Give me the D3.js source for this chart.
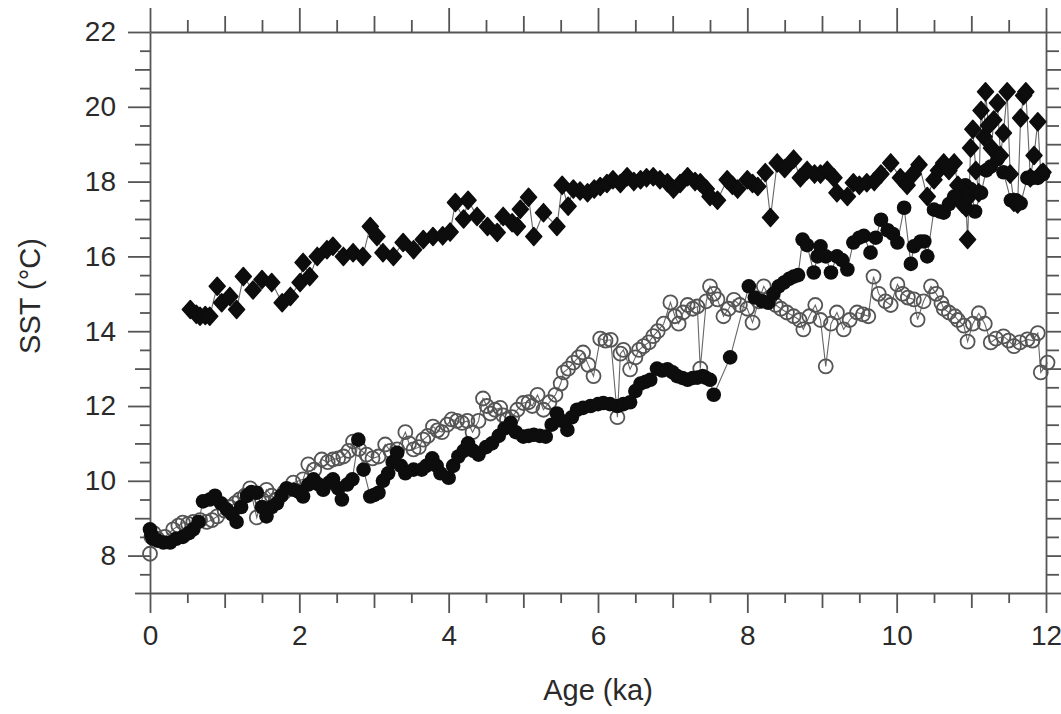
<!DOCTYPE html>
<html>
<head>
<meta charset="utf-8">
<script src="https://cdn.jsdelivr.net/npm/d3@7"></script>
<style>
  body { margin: 0; background: #fff; }
  svg text { font-family: "Liberation Sans", Arial, sans-serif; fill: #2a2a2a; }
</style>
</head>
<body>
<svg id="chart"></svg>
<script>
// ---- data ----
var diaAge = [0.54,0.62,0.67,0.74,0.80,0.90,0.96,1.07,1.16,1.25,1.38,1.50,1.63,1.77,1.88,2.01,2.05,2.14,2.24,2.37,2.45,2.59,2.72,2.85,2.95,3.04,3.12,3.26,3.39,3.53,3.66,3.79,3.92,4.02,4.09,4.20,4.26,4.38,4.52,4.65,4.73,4.85,4.92,4.96,5.07,5.14,5.27,5.45,5.52,5.60,5.67,5.76,5.86,5.95,6.03,6.12,6.20,6.30,6.39,6.48,6.57,6.65,6.74,6.83,6.93,7.01,7.10,7.20,7.30,7.37,7.45,7.50,7.60,7.73,7.80,7.87,8.00,8.07,8.14,8.24,8.31,8.40,8.50,8.62,8.71,8.80,8.90,8.98,9.07,9.16,9.20,9.34,9.42,9.50,9.60,9.70,9.79,9.92,10.05,10.14,10.22,10.30,10.41,10.50,10.56,10.63,10.70,10.77,10.82,10.88,10.93,10.95,10.97,10.99,11.02,11.06,11.10,11.13,11.17,11.19,11.23,11.27,11.30,11.35,11.39,11.43,11.48,11.52,11.57,11.62,11.66,11.70,11.73,11.79,11.84,11.89,11.93,11.96];
var diaSST = [14.58,14.45,14.4,14.42,14.4,15.2,14.76,14.93,14.58,15.46,15.1,15.38,15.3,14.76,14.93,15.3,15.84,15.46,16.0,16.18,16.27,16.0,16.1,16.0,16.8,16.53,16.1,16.0,16.37,16.18,16.45,16.53,16.55,16.65,17.44,17.0,17.5,17.07,16.8,16.64,17.07,16.9,16.8,17.26,17.58,16.53,17.17,16.8,17.9,17.34,17.8,17.75,17.7,17.8,17.87,17.95,18.05,17.95,18.13,18.0,18.05,18.1,18.13,18.05,17.97,17.8,17.95,18.13,18.0,17.97,17.8,17.6,17.5,18.05,17.9,17.8,18.05,17.95,17.87,18.24,17.04,18.5,18.35,18.6,18.1,18.3,18.2,18.2,18.3,18.1,17.7,17.6,17.97,17.9,17.97,18.0,18.2,18.5,18.1,17.9,18.2,18.45,17.6,18.05,18.3,18.5,18.3,18.5,17.9,17.4,17.3,16.45,17.6,18.9,19.4,18.3,17.7,19.9,19.2,20.4,19.5,18.9,19.65,20.1,18.7,19.3,20.4,18.2,17.45,17.4,19.7,20.3,20.4,18.1,18.7,19.6,18.2,18.25];

var fillAge = [0.00,0.02,0.04,0.10,0.18,0.27,0.35,0.44,0.52,0.58,0.65,0.71,0.80,0.87,0.95,1.03,1.10,1.16,1.22,1.30,1.36,1.43,1.50,1.56,1.63,1.70,1.76,1.83,1.92,2.00,2.05,2.12,2.19,2.26,2.32,2.40,2.45,2.52,2.57,2.64,2.71,2.79,2.86,2.95,3.00,3.06,3.12,3.19,3.25,3.31,3.36,3.42,3.53,3.64,3.70,3.78,3.84,3.89,4.00,4.06,4.13,4.20,4.26,4.33,4.40,4.50,4.58,4.67,4.75,4.83,4.90,5.00,5.07,5.14,5.22,5.30,5.38,5.45,5.52,5.59,5.65,5.72,5.80,5.90,6.00,6.07,6.16,6.26,6.34,6.43,6.50,6.57,6.64,6.70,6.79,6.86,6.93,7.00,7.06,7.13,7.20,7.27,7.33,7.40,7.44,7.50,7.55,7.77,8.02,8.10,8.20,8.28,8.35,8.42,8.49,8.56,8.62,8.68,8.74,8.80,8.89,8.94,8.98,9.05,9.12,9.20,9.27,9.34,9.42,9.50,9.56,9.65,9.72,9.79,9.88,9.95,10.01,10.10,10.19,10.23,10.32,10.37,10.41,10.50,10.58,10.63,10.70,10.77,10.86,10.92,10.99,11.05,11.13,11.20,11.26,11.35,11.43,11.53,11.60,11.66,11.75,11.82,11.89,11.96];
var fillSST = [8.7,8.55,8.45,8.4,8.35,8.35,8.45,8.5,8.6,8.7,8.9,9.45,9.5,9.6,9.4,9.23,9.1,8.9,9.3,9.6,9.7,9.68,9.3,9.05,9.3,9.4,9.6,9.8,9.76,9.7,9.58,9.9,10.04,9.9,9.76,9.95,10.04,9.8,9.5,9.9,10.04,11.1,10.3,9.58,9.62,9.68,10.0,10.2,10.5,10.75,10.4,10.2,10.3,10.3,10.4,10.6,10.4,10.2,10.08,10.4,10.65,10.8,11.0,10.8,10.7,10.9,11.0,11.2,11.4,11.55,11.3,11.18,11.2,11.23,11.2,11.18,11.5,11.8,11.6,11.36,11.7,11.9,11.95,12.0,12.05,12.08,12.05,12.0,12.05,12.1,12.4,12.6,12.65,12.7,13.0,12.95,12.98,12.9,12.8,12.75,12.7,12.75,12.76,12.8,12.76,12.7,12.3,13.3,15.2,14.9,14.8,14.76,15.0,15.2,15.3,15.4,15.46,15.5,16.45,16.3,15.57,16.0,16.27,16.0,15.57,16.0,15.9,15.65,16.37,16.5,16.55,16.1,16.5,16.98,16.7,16.6,16.37,17.3,15.8,16.27,16.4,16.4,16.0,17.25,17.2,17.17,17.4,17.6,17.7,17.9,17.8,17.2,17.7,18.3,18.4,18.6,18.25,17.5,17.5,17.42,18.1,18.1,18.1,18.2];

var openAge = [0.00,0.02,0.05,0.10,0.20,0.31,0.38,0.44,0.51,0.58,0.67,0.76,0.83,0.90,1.00,1.07,1.14,1.20,1.27,1.34,1.43,1.50,1.56,1.63,1.70,1.80,1.92,2.05,2.12,2.20,2.30,2.38,2.45,2.52,2.59,2.66,2.72,2.80,2.90,2.98,3.06,3.15,3.22,3.31,3.42,3.47,3.53,3.60,3.66,3.72,3.79,3.85,3.91,3.98,4.04,4.11,4.18,4.25,4.32,4.40,4.46,4.51,4.56,4.62,4.69,4.73,4.78,4.85,4.92,5.00,5.07,5.12,5.19,5.27,5.35,5.43,5.50,5.54,5.60,5.67,5.74,5.80,5.87,5.94,6.03,6.10,6.17,6.26,6.30,6.34,6.43,6.50,6.55,6.61,6.68,6.74,6.80,6.88,6.97,7.03,7.08,7.14,7.20,7.27,7.33,7.37,7.45,7.50,7.55,7.60,7.68,7.75,7.82,7.90,8.00,8.07,8.15,8.22,8.30,8.38,8.45,8.53,8.62,8.70,8.75,8.83,8.91,8.98,9.05,9.12,9.20,9.29,9.37,9.47,9.55,9.62,9.69,9.76,9.85,9.92,10.01,10.08,10.15,10.23,10.28,10.36,10.46,10.53,10.60,10.63,10.70,10.78,10.82,10.90,10.95,11.02,11.10,11.18,11.26,11.33,11.43,11.50,11.57,11.65,11.75,11.82,11.89,11.93,12.02];
var openSST = [8.05,8.5,8.6,8.45,8.5,8.7,8.8,8.88,8.85,8.9,8.95,8.9,8.95,9.05,9.2,9.3,9.4,9.5,9.6,9.8,9.02,9.5,9.76,9.6,9.5,9.7,9.95,10.04,10.44,10.3,10.57,10.5,10.57,10.6,10.65,10.8,11.05,10.85,10.7,10.6,10.65,10.97,10.8,10.84,11.3,11.0,10.84,10.9,11.1,11.2,11.45,11.35,11.3,11.5,11.64,11.6,11.55,11.6,11.3,11.6,12.2,12.0,11.8,11.9,11.95,11.75,11.64,11.7,11.9,12.08,12.1,12.0,12.3,11.9,12.1,12.3,12.6,12.9,13.0,13.16,13.3,13.43,13.1,12.8,13.8,13.75,13.77,11.7,13.4,13.5,12.98,13.3,13.5,13.6,13.7,13.87,14.0,14.2,14.77,14.4,14.2,14.5,14.7,14.6,14.66,13.0,14.8,15.2,15.0,14.85,14.4,14.6,14.84,14.7,14.6,14.23,14.8,15.2,14.9,14.7,14.6,14.5,14.4,14.3,14.05,14.4,14.7,14.3,13.06,14.2,14.5,14.05,14.3,14.5,14.45,14.4,15.46,15.0,14.8,14.7,15.25,15.0,14.9,14.85,14.31,14.8,15.2,15.0,14.75,14.6,14.5,14.4,14.3,14.15,13.72,14.2,14.48,14.2,13.7,13.8,13.86,13.75,13.6,13.7,13.78,13.75,13.95,12.9,13.16];

var xTicks = d3.range(0, 12.01, 0.5);
var yTicks = d3.range(7, 22.01, 0.5);
var xLabelled = [0, 2, 4, 6, 8, 10, 12];
var yLabelled = [8, 10, 12, 14, 16, 18, 20, 22];

// ---- layout ----
var W = 1061, H = 714;
var margin = {top: 32, right: 15, bottom: 121, left: 150};
var width = W - margin.left - margin.right,
    height = H - margin.top - margin.bottom;

var svg = d3.select("#chart").attr("width", W).attr("height", H);
var g = svg.append("g").attr("transform", "translate(" + margin.left + "," + margin.top + ")");

var x = d3.scaleLinear().domain([0, 12]).range([0, width]);
var y = d3.scaleLinear().domain([7, 22]).range([height, 0]);

function tickLen(v, big, mid, small) {
  if (Math.abs(v % 2) < 1e-6) return big;
  if (Math.abs(v % 1) < 1e-6) return mid;
  return small;
}
function labelX(d) { return xLabelled.indexOf(d) >= 0 ? d : ""; }
function labelY(d) { return yLabelled.indexOf(d) >= 0 ? d : ""; }

function styleAxis(sel) {
  sel.select(".domain").attr("stroke", "#555").attr("stroke-width", 1.8);
  sel.selectAll(".tick line").attr("stroke", "#555").attr("stroke-width", 1.8);
  sel.selectAll(".tick text").style("font-size", "28px").attr("fill", "#2a2a2a");
}

// bottom
var gB = g.append("g").attr("transform", "translate(0," + height + ")")
  .call(d3.axisBottom(x).tickValues(xTicks).tickSizeOuter(0).tickPadding(26).tickFormat(labelX));
gB.selectAll(".tick line").attr("y2", function(d) { return tickLen(d, 20, 15, 10); });
styleAxis(gB);

// top
var gT = g.append("g")
  .call(d3.axisTop(x).tickValues(xTicks).tickSizeOuter(0).tickFormat(""));
gT.selectAll(".tick line").attr("y2", function(d) { return -tickLen(d, 24, 16, 12); });
styleAxis(gT);

// left
var gL = g.append("g")
  .call(d3.axisLeft(y).tickValues(yTicks).tickSizeOuter(0).tickPadding(14).tickFormat(labelY));
gL.selectAll(".tick line").attr("x2", function(d) { return -tickLen(d - 6, 22, 15, 10); });
gL.selectAll(".tick text").attr("x", -34);
styleAxis(gL);

// right
var gR = g.append("g").attr("transform", "translate(" + width + ",0)")
  .call(d3.axisRight(y).tickValues(yTicks).tickSizeOuter(0).tickFormat(""));
gR.selectAll(".tick line").attr("x2", function(d) { return tickLen(d - 6, 22, 15, 13); });
styleAxis(gR);

// axis titles
svg.append("text")
  .attr("x", margin.left + width / 2).attr("y", 700)
  .attr("text-anchor", "middle").style("font-size", "29px")
  .text("Age (ka)");
svg.append("text")
  .attr("transform", "translate(40,296) rotate(-90)")
  .attr("text-anchor", "middle").style("font-size", "29px")
  .text("SST (°C)");

// ---- series ----
function pts(ages, vals) {
  return ages.map(function(a, i) { return {age: a, sst: vals[i]}; });
}
var diamonds = pts(diaAge, diaSST);
var filled = pts(fillAge, fillSST);
var open = pts(openAge, openSST);

var line = d3.line().x(function(d) { return x(d.age); }).y(function(d) { return y(d.sst); });

var plot = g.append("g");

[open, filled, diamonds].forEach(function(s) {
  plot.append("path").datum(s)
    .attr("d", line).attr("fill", "none")
    .attr("stroke", "#666").attr("stroke-width", 1.1);
});

plot.append("g").selectAll("circle").data(open).enter().append("circle")
  .attr("cx", function(d) { return x(d.age); })
  .attr("cy", function(d) { return y(d.sst); })
  .attr("r", 7)
  .attr("fill", "none").attr("stroke", "#555").attr("stroke-width", 1.8);

plot.append("g").selectAll("circle").data(filled).enter().append("circle")
  .attr("cx", function(d) { return x(d.age); })
  .attr("cy", function(d) { return y(d.sst); })
  .attr("r", 7.3)
  .attr("fill", "#0d0d0d");

var diamondPath = "M0,-9L8,0L0,9L-8,0Z";
plot.append("g").selectAll("path").data(diamonds).enter().append("path")
  .attr("d", diamondPath)
  .attr("transform", function(d) { return "translate(" + x(d.age) + "," + y(d.sst) + ")"; })
  .attr("fill", "#0d0d0d")
  .attr("stroke", "#0d0d0d").attr("stroke-width", 1.5).attr("stroke-linejoin", "round");
</script>
</body>
</html>
